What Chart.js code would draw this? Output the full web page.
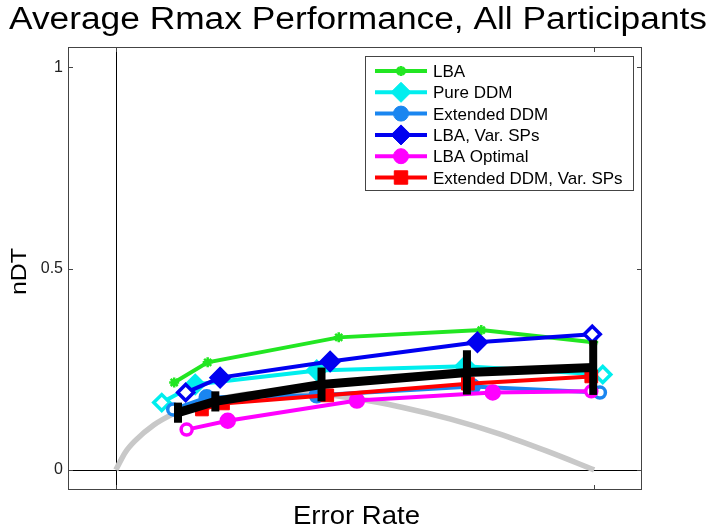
<!DOCTYPE html>
<html><head><meta charset="utf-8">
<script src="https://cdn.jsdelivr.net/npm/chart.js@4.4.1/dist/chart.umd.min.js"></script>
<style>html,body{margin:0;padding:0;background:#fff}#wrap{width:709px;height:529px}</style>
</head><body><div id="wrap"><canvas id="c" width="709" height="529"></canvas></div>
<script>
const titleText = 'Average Rmax Performance, All Participants';
const xLabel = 'Error Rate';
const yLabel = 'nDT';
const yTicks = [0, 0.5, 1];
const xTicks = [0, 0.5];

const seriesNames = ['LBA', 'Pure DDM', 'Extended DDM', 'LBA, Var. SPs', 'LBA Optimal', 'Extended DDM, Var. SPs'];

const lbaER = [0.061, 0.096, 0.233, 0.382, 0.499];
const lbaDT = [0.217, 0.267, 0.329, 0.347, 0.317];

const pureER = [0.048, 0.083, 0.210, 0.365, 0.509];
const pureDT = [0.167, 0.212, 0.247, 0.257, 0.237];

const extER = [0.060, 0.095, 0.210, 0.373, 0.506];
const extDT = [0.150, 0.180, 0.185, 0.207, 0.192];

const lbaVarER = [0.073, 0.109, 0.224, 0.378, 0.498];
const lbaVarDT = [0.192, 0.229, 0.269, 0.317, 0.337];

const lbaOptER = [0.074, 0.117, 0.252, 0.394, 0.497];
const lbaOptDT = [0.100, 0.122, 0.172, 0.192, 0.195];

const extVarER = [0.090, 0.112, 0.221, 0.368, 0.497];
const extVarDT = [0.150, 0.165, 0.185, 0.214, 0.232];

const avgER = [0.065, 0.104, 0.215, 0.367, 0.499];
const avgDT = [0.142, 0.170, 0.212, 0.242, 0.254];
const avgErr = [0.025, 0.025, 0.042, 0.055, 0.068];

const optCurveER = [0, 0.01, 0.02, 0.04, 0.06, 0.08, 0.10, 0.15, 0.20, 0.25, 0.30, 0.35, 0.40, 0.45, 0.50];
const optCurveDT = [0, 0.044, 0.072, 0.112, 0.139, 0.159, 0.172, 0.190, 0.190, 0.177, 0.155, 0.126, 0.090, 0.047, 0];

const FONT = '"Liberation Sans", Arial, Helvetica, sans-serif';

function pts(xs, ys) { return xs.map((x, i) => ({ x: x, y: ys[i] })); }
function endArr(n, endVal, midVal) { return Array.from({ length: n }, (_, i) => (i === 0 || i === n - 1) ? endVal : midVal); }

const styles = [
  { color: '#22e622', style: 'star', r: 5, bw: 2.5, hollow: false, lr: 5 },
  { color: '#00eeee', style: 'rectRot', r: 9.5, bw: 2.5, hollow: true, lr: 10 },
  { color: '#1a86f0', style: 'circle', r: 7, bw: 2.5, hollow: true, lr: 7.5 },
  { color: '#0000f0', style: 'rectRot', r: 9.5, bw: 2.5, hollow: true, lr: 10 },
  { color: '#ff00ff', style: 'circle', r: 7, bw: 2.5, hollow: true, lr: 7.5 },
  { color: '#ff0000', style: 'rect', r: 9, bw: 1, hollow: false, lr: 9.5 }
];
const seriesX = [lbaER, pureER, extER, lbaVarER, lbaOptER, extVarER];
const seriesY = [lbaDT, pureDT, extDT, lbaVarDT, lbaOptDT, extVarDT];
const orders = [6, 5, 4, 3, 2, 1];

const datasets = seriesNames.map((name, i) => {
  const s = styles[i];
  const n = seriesX[i].length;
  return {
    label: name,
    data: pts(seriesX[i], seriesY[i]),
    borderColor: s.color,
    backgroundColor: s.color,
    borderWidth: 4,
    pointStyle: s.style,
    pointRadius: s.hollow ? endArr(n, s.r - 1.5, s.r) : s.r,
    pointBorderWidth: s.hollow ? endArr(n, 3.5, s.bw) : s.bw,
    pointBorderColor: s.color,
    pointBackgroundColor: s.hollow ? endArr(n, '#ffffff', s.color) : s.color,
    tension: 0,
    order: orders[i]
  };
});
datasets.push({
  label: 'Average',
  data: pts(avgER, avgDT),
  borderColor: '#000000',
  borderWidth: 9,
  pointRadius: 0,
  tension: 0,
  order: 0
});
datasets.push({
  label: 'Optimal',
  data: pts(optCurveER, optCurveDT),
  borderColor: '#c8c8c8',
  borderWidth: 5.5,
  pointRadius: 0,
  cubicInterpolationMode: 'monotone',
  order: 10
});

function drawMarker(ctx, style, x, y, r, fill, stroke, lw) {
  ctx.save();
  ctx.beginPath();
  ctx.lineWidth = lw;
  ctx.strokeStyle = stroke;
  ctx.fillStyle = fill;
  if (style === 'circle') {
    ctx.arc(x, y, r, 0, Math.PI * 2);
    ctx.fill(); ctx.stroke();
  } else if (style === 'rectRot') {
    ctx.moveTo(x, y - r); ctx.lineTo(x + r, y); ctx.lineTo(x, y + r); ctx.lineTo(x - r, y); ctx.closePath();
    ctx.fill(); ctx.stroke();
  } else if (style === 'rect') {
    const h = r * Math.SQRT1_2;
    ctx.rect(x - h, y - h, 2 * h, 2 * h);
    ctx.fill(); ctx.stroke();
  } else if (style === 'star') {
    const d = r * Math.SQRT1_2;
    ctx.moveTo(x - r, y); ctx.lineTo(x + r, y);
    ctx.moveTo(x, y - r); ctx.lineTo(x, y + r);
    ctx.moveTo(x - d, y - d); ctx.lineTo(x + d, y + d);
    ctx.moveTo(x - d, y + d); ctx.lineTo(x + d, y - d);
    ctx.stroke();
  }
  ctx.restore();
}

function drawStretched(ctx, text, cx, baseline, px, targetW, rot) {
  ctx.save();
  ctx.font = px + 'px ' + FONT;
  const w = ctx.measureText(text).width;
  ctx.translate(cx, baseline);
  if (rot) ctx.rotate(rot);
  ctx.scale(targetW / w, 1);
  ctx.textAlign = 'center';
  ctx.textBaseline = 'alphabetic';
  ctx.fillStyle = '#000';
  ctx.fillText(text, 0, 0);
  ctx.restore();
}

const decor = {
  id: 'decor',
  beforeDatasetsDraw(chart) {
    const { ctx, chartArea: a, scales: { x, y } } = chart;
    ctx.save();
    ctx.strokeStyle = '#000';
    ctx.lineWidth = 1;
    const x0 = Math.round(x.getPixelForValue(0)) + 0.5;
    const y0 = Math.round(y.getPixelForValue(0)) + 0.5;
    ctx.beginPath();
    ctx.moveTo(x0, a.top); ctx.lineTo(x0, a.bottom);
    ctx.moveTo(a.left, y0); ctx.lineTo(a.right, y0);
    ctx.stroke();
    ctx.restore();
  },
  afterDatasetsDraw(chart) {
    const { ctx, chartArea: a, scales: { x, y } } = chart;
    ctx.save();
    // error bars of the average
    ctx.strokeStyle = '#000';
    ctx.lineWidth = 8;
    ctx.lineCap = 'butt';
    avgER.forEach((er, i) => {
      const px = x.getPixelForValue(er);
      ctx.beginPath();
      ctx.moveTo(px, y.getPixelForValue(avgDT[i] - avgErr[i]));
      ctx.lineTo(px, y.getPixelForValue(avgDT[i] + avgErr[i]));
      ctx.stroke();
    });
    // axes box
    ctx.strokeStyle = '#444';
    ctx.lineWidth = 1;
    ctx.strokeRect(a.left + 0.5, a.top + 0.5, a.right - a.left - 1, a.bottom - a.top - 1);
    // inward ticks
    ctx.beginPath();
    yTicks.forEach(v => {
      const py = Math.round(y.getPixelForValue(v)) + 0.5;
      ctx.moveTo(a.left, py); ctx.lineTo(a.left + 5, py);
      ctx.moveTo(a.right, py); ctx.lineTo(a.right - 5, py);
    });
    xTicks.forEach(v => {
      const px = Math.round(x.getPixelForValue(v)) + 0.5;
      ctx.moveTo(px, a.bottom); ctx.lineTo(px, a.bottom - 5);
      ctx.moveTo(px, a.top); ctx.lineTo(px, a.top + 5);
    });
    ctx.stroke();
    // legend
    const L = 365, T = 56, R = 633, B = 190;
    ctx.fillStyle = '#fff';
    ctx.fillRect(L, T, R - L, B - T);
    ctx.strokeStyle = '#444';
    ctx.strokeRect(L + 0.5, T + 0.5, R - L, B - T);
    ctx.font = '17px ' + FONT;
    ctx.textBaseline = 'alphabetic';
    ctx.textAlign = 'left';
    seriesNames.forEach((name, i) => {
      const s = styles[i];
      const cy = 71 + i * 21.3;
      ctx.strokeStyle = s.color;
      ctx.lineWidth = 4;
      ctx.beginPath();
      ctx.moveTo(375, cy); ctx.lineTo(427, cy);
      ctx.stroke();
      drawMarker(ctx, s.style, 401, cy, s.lr, s.color, s.color, s.style === 'star' ? 3 : 1);
      ctx.fillStyle = '#000';
      ctx.fillText(name, 433, cy + 6);
    });
    ctx.restore();
  },
  afterDraw(chart) {
    const ctx = chart.ctx;
    drawStretched(ctx, titleText, 358, 29, 31, 698, 0);
    drawStretched(ctx, xLabel, 356.5, 524, 26.5, 127, 0);
    drawStretched(ctx, yLabel, 26, 271.5, 22, 47, -Math.PI / 2);
  }
};

new Chart(document.getElementById('c'), {
  type: 'line',
  data: { datasets: datasets },
  options: {
    responsive: false,
    animation: false,
    devicePixelRatio: 1,
    layout: { padding: { top: 47, right: 67, bottom: 0, left: 0 } },
    plugins: { legend: { display: false }, tooltip: { enabled: false }, title: { display: false } },
    scales: {
      x: {
        type: 'linear', min: -0.05, max: 0.55,
        grid: { display: false, drawTicks: false },
        border: { display: false },
        ticks: { display: false },
        afterFit(s) { s.height = 39; }
      },
      y: {
        type: 'linear', min: -0.05, max: 1.05,
        grid: { display: false, drawTicks: false },
        border: { display: false },
        afterBuildTicks(s) { s.ticks = yTicks.map(v => ({ value: v })); },
        ticks: { font: { size: 16, family: FONT }, color: '#222', padding: 5, callback: v => String(v) },
        afterFit(s) { s.width = 68; }
      }
    }
  },
  plugins: [decor]
});
</script>
</body></html>
